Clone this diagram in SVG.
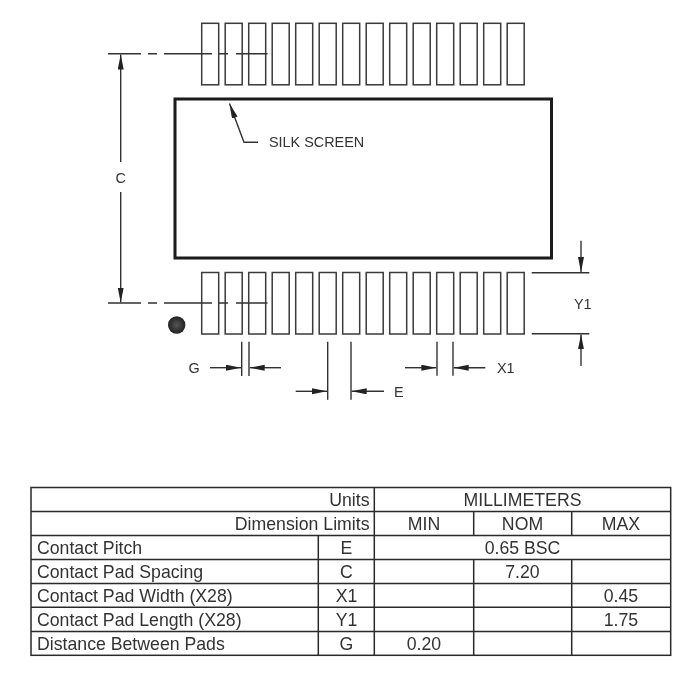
<svg xmlns="http://www.w3.org/2000/svg" xmlns:xlink="http://www.w3.org/1999/xlink" width="700" height="700" viewBox="0 0 700 700">
<style>
text{font-family:"Liberation Sans",Arial,sans-serif;font-size:17.7px;fill:#333}
.d{font-size:14.4px}
.m{text-anchor:middle}
.e{text-anchor:end}
.pad{fill:none;stroke:#3a3a3a;stroke-width:1.5}
.ln{fill:none;stroke:#333;stroke-width:1.4}
.ar{fill:none;stroke:#333;stroke-width:1.4;marker-end:url(#a)}
.body{fill:none;stroke:#1c1c1c;stroke-width:3}
.tb{fill:none;stroke:#2a2a2a;stroke-width:1.5}
</style>
<defs>
<filter id="soft" x="0" y="0" width="100%" height="100%" filterUnits="userSpaceOnUse"><feGaussianBlur stdDeviation="0.35"/></filter>
<marker id="a" markerUnits="userSpaceOnUse" markerWidth="16" markerHeight="8" refX="15" refY="3" orient="auto"><path d="M0 0L15 3L0 6Z" fill="#222"/></marker>
<radialGradient id="dot"><stop offset="0" stop-color="#555"/><stop offset="1" stop-color="#222"/></radialGradient>
<rect id="p" width="17" height="61.5" class="pad"/>
</defs>
<g filter="url(#soft)">
<g id="top-pads">
<use xlink:href="#p" x="201.7" y="23.3"/><use xlink:href="#p" x="225.2" y="23.3"/><use xlink:href="#p" x="248.7" y="23.3"/><use xlink:href="#p" x="272.2" y="23.3"/><use xlink:href="#p" x="295.7" y="23.3"/><use xlink:href="#p" x="319.2" y="23.3"/><use xlink:href="#p" x="342.7" y="23.3"/><use xlink:href="#p" x="366.2" y="23.3"/><use xlink:href="#p" x="389.7" y="23.3"/><use xlink:href="#p" x="413.2" y="23.3"/><use xlink:href="#p" x="436.7" y="23.3"/><use xlink:href="#p" x="460.2" y="23.3"/><use xlink:href="#p" x="483.7" y="23.3"/><use xlink:href="#p" x="507.2" y="23.3"/>
</g>
<g id="bottom-pads">
<use xlink:href="#p" x="201.7" y="272.5"/><use xlink:href="#p" x="225.2" y="272.5"/><use xlink:href="#p" x="248.7" y="272.5"/><use xlink:href="#p" x="272.2" y="272.5"/><use xlink:href="#p" x="295.7" y="272.5"/><use xlink:href="#p" x="319.2" y="272.5"/><use xlink:href="#p" x="342.7" y="272.5"/><use xlink:href="#p" x="366.2" y="272.5"/><use xlink:href="#p" x="389.7" y="272.5"/><use xlink:href="#p" x="413.2" y="272.5"/><use xlink:href="#p" x="436.7" y="272.5"/><use xlink:href="#p" x="460.2" y="272.5"/><use xlink:href="#p" x="483.7" y="272.5"/><use xlink:href="#p" x="507.2" y="272.5"/>
</g>
<g id="silk-body"><rect class="body" x="175" y="99" width="376.5" height="159"/></g>
<g id="pin-dot"><circle cx="176.7" cy="325" r="8.7" fill="url(#dot)"/></g>
<g id="connectors">
<path class="ln" d="M108 53.7H141M148 53.7H157M164 53.7H212M219 53.7H228M236 53.7H267.5"/>
<path class="ln" d="M108 303H141M148 303H157M164 303H212M219 303H228M236 303H267.5"/>
<path class="ar" d="M120.7 162V54.5"/>
<path class="ar" d="M120.7 192V302.5"/>
<path class="ar" d="M258 142.3H244L229.5 103.5"/>
<path class="ln" d="M241.7 341.7V376M249 341.7V376"/>
<path class="ar" d="M210 367.7H241"/>
<path class="ar" d="M281 367.7H249.7"/>
<path class="ln" d="M327.7 341.7V399.7M351 341.7V399.7"/>
<path class="ar" d="M295.7 391.3H327"/>
<path class="ar" d="M384 391.3H351.7"/>
<path class="ln" d="M437 341.7V375.7M453 341.7V375.7"/>
<path class="ar" d="M405 367.7H436.3"/>
<path class="ar" d="M485.3 367.7H453.7"/>
<path class="ln" d="M531.7 272.7H589.3M531.7 333.7H589.3"/>
<path class="ar" d="M581 240.7V272"/>
<path class="ar" d="M581 366V334.4"/>
</g>
<g id="dim-labels">
<text class="d" x="269" y="147">SILK SCREEN</text>
<text class="d" x="120.7" y="183" text-anchor="middle">C</text>
<text class="d" x="188.5" y="372.5">G</text>
<text class="d" x="394" y="397">E</text>
<text class="d" x="497" y="373">X1</text>
<text class="d" x="574" y="308.5">Y1</text>
</g>
<g id="table">
<rect class="tb" x="31" y="487.5" width="639.7" height="167.8"/>
<path class="tb" d="M31 511.4H670.7M31 535.4H670.7M31 559.4H670.7M31 583.6H670.7M31 607.2H670.7M31 631.6H670.7M374.3 487.5V655.3M318.3 535.4V655.3M473.7 511.4V535.4M571.7 511.4V535.4M473.7 559.4V655.3M571.7 559.4V655.3"/>
<text class="e" x="369.5" y="506">Units</text>
<text class="e" x="369.5" y="530">Dimension Limits</text>
<text x="37" y="554">Contact Pitch</text>
<text x="37" y="578">Contact Pad Spacing</text>
<text x="37" y="602">Contact Pad Width (X28)</text>
<text x="37" y="626">Contact Pad Length (X28)</text>
<text x="37" y="650">Distance Between Pads</text>
<text class="m" x="346.5" y="554">E</text>
<text class="m" x="346.5" y="578">C</text>
<text class="m" x="346.5" y="602">X1</text>
<text class="m" x="346.5" y="626">Y1</text>
<text class="m" x="346.5" y="650">G</text>
<text class="m" x="522.5" y="506">MILLIMETERS</text>
<text class="m" x="424" y="530">MIN</text>
<text class="m" x="522.5" y="530">NOM</text>
<text class="m" x="621" y="530">MAX</text>
<text class="m" x="522.5" y="554">0.65 BSC</text>
<text class="m" x="522.5" y="578">7.20</text>
<text class="m" x="621" y="602">0.45</text>
<text class="m" x="621" y="626">1.75</text>
<text class="m" x="424" y="650">0.20</text>
</g>
</g>
</svg>
